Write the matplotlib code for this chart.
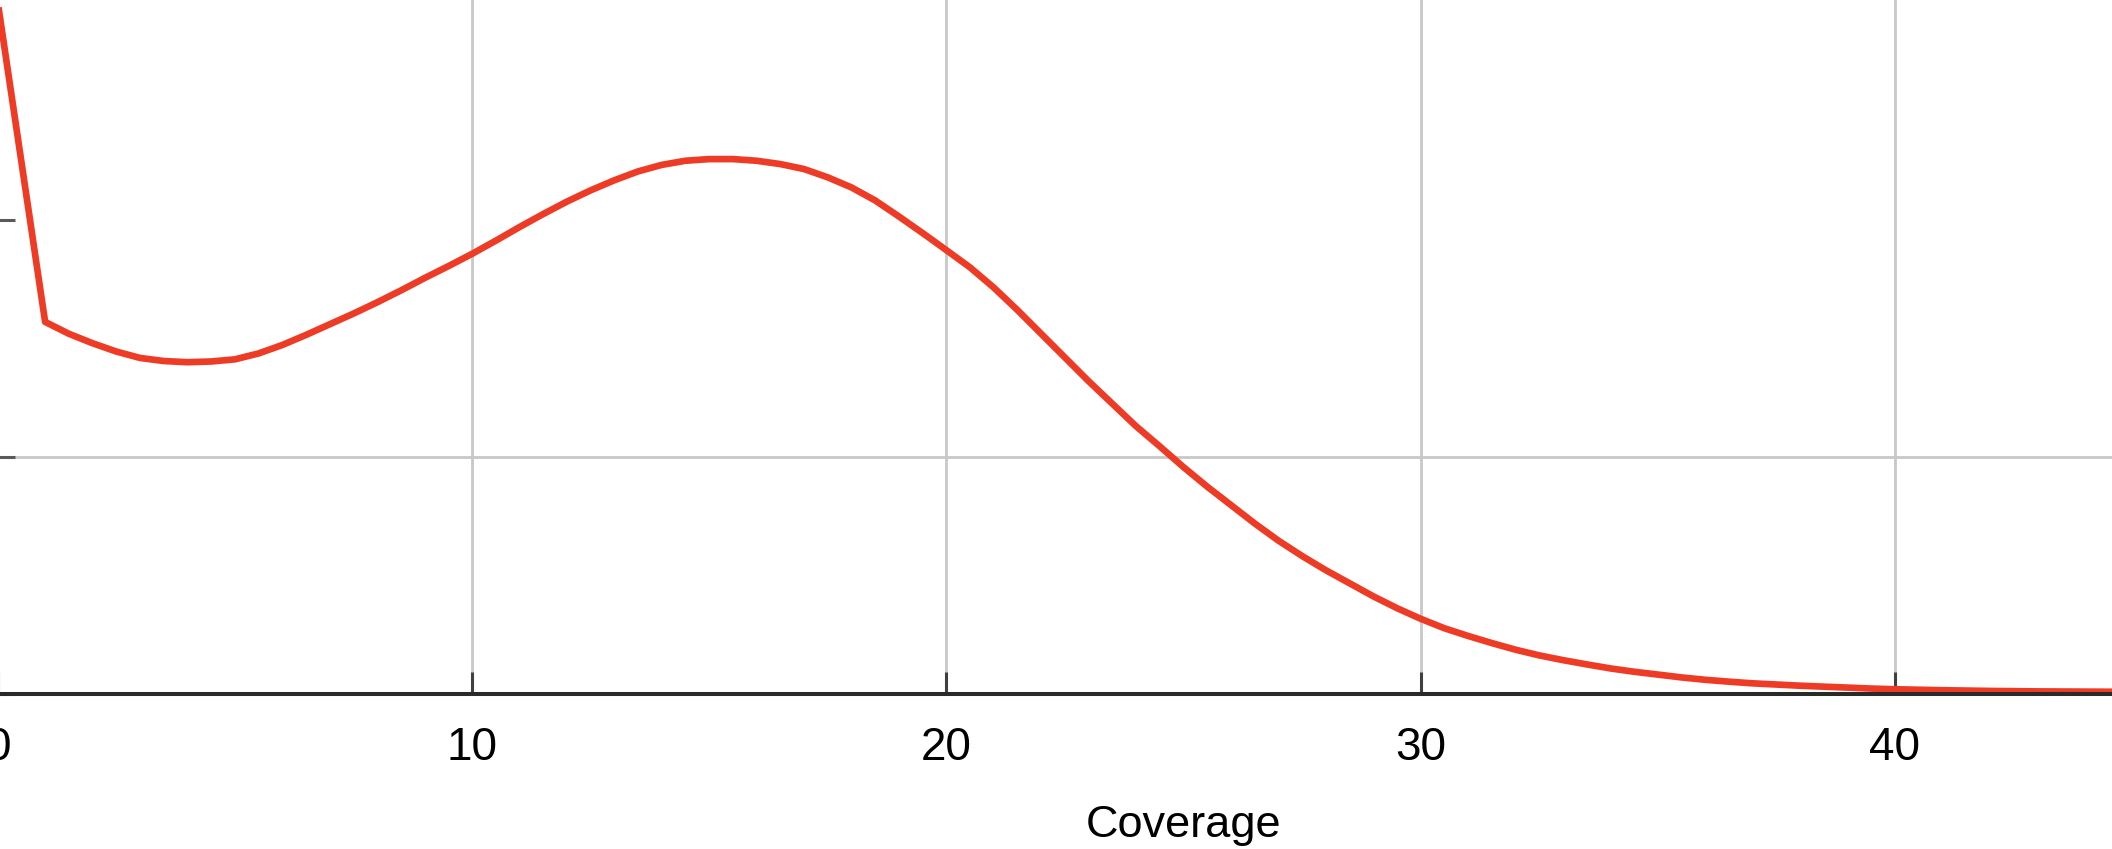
import matplotlib
matplotlib.use("Agg")
import matplotlib.pyplot as plt

# coverage histogram (percent of positions)
coverage = [
    0, 1, 1.5, 2, 2.5, 3, 3.5, 4, 4.5, 5, 5.5, 6, 6.5, 7, 7.5, 8, 8.5, 9, 9.5,
    10, 10.5, 11, 11.5, 12, 12.5, 13, 13.5, 14, 14.5, 15, 15.5, 16, 16.5, 17, 17.5,
    18, 18.5, 19, 19.5, 20, 20.5, 21, 21.5, 22, 22.5, 23, 23.5, 24, 24.5, 25, 25.5,
    26, 26.5, 27, 27.5, 28, 28.5, 29, 29.5, 30, 30.5, 31, 31.5, 32, 32.5, 33, 33.5,
    34, 34.5, 35, 35.5, 36, 36.5, 37, 37.5, 38, 38.5, 39, 39.5, 40, 41, 42, 43, 44,
    45, 46, 48, 50,
]
percent = [
    5.84, 3.14, 3.04, 2.96, 2.89, 2.836, 2.81, 2.80, 2.806, 2.824, 2.874, 2.945, 3.03,
    3.12, 3.21, 3.305, 3.405, 3.51, 3.61,
    3.714, 3.825, 3.94, 4.05, 4.155, 4.25, 4.335, 4.41, 4.465, 4.50, 4.514, 4.514,
    4.50, 4.472, 4.43, 4.36,
    4.275, 4.165, 4.03, 3.89, 3.746, 3.60, 3.43, 3.24, 3.04, 2.84, 2.64, 2.45,
    2.26, 2.09, 1.915, 1.75,
    1.595, 1.44, 1.295, 1.165, 1.045, 0.935, 0.825, 0.725, 0.635, 0.555, 0.49, 0.43,
    0.374, 0.326, 0.286, 0.25,
    0.216, 0.188, 0.164, 0.14, 0.12, 0.104, 0.09, 0.08, 0.07, 0.062, 0.054, 0.046,
    0.040, 0.032, 0.026, 0.022, 0.020,
    0.018, 0.016, 0.014, 0.012,
]
x_ticks = [0, 10, 20, 30, 40, 50]
y_ticks = [0, 2, 4, 6]

W, H = 2112, 849
fig = plt.figure(figsize=(W / 100, H / 100), dpi=100)

# axes runs past the figure edges (the reference is a crop of a larger chart)
px_per_x = 47.43
px_per_y = 237 / 2
x0_px = -2.3
base_px = 694
ax = fig.add_axes([x0_px / W, (H - base_px) / H,
                   50 * px_per_x / W, 8 * px_per_y / H])

ax.plot(coverage, percent, color="#ee3b26", linewidth=4.8, zorder=2.5,
        solid_joinstyle="round")

ax.set_xlim(0, 50)
ax.set_ylim(0, 8)
ax.set_xticks(x_ticks)
ax.set_yticks(y_ticks)

for s in ["left", "top", "right"]:
    ax.spines[s].set_visible(False)
ax.spines["bottom"].set_color("#2a2a2a")
ax.spines["bottom"].set_linewidth(2.9)
ax.spines["bottom"].set_zorder(3)

ax.grid(True, color="#c8c8c8", linewidth=2.0, zorder=0)
ax.set_axisbelow(True)

ax.tick_params(axis="x", direction="in", length=16, width=2.2, color="#404040",
               labelsize=33, pad=23)
ax.tick_params(axis="y", direction="in", length=12, width=2.2, color="#5a5a5a",
               labelsize=33)
for lab in ax.get_xticklabels() + ax.get_yticklabels():
    lab.set_fontfamily(["Liberation Sans", "DejaVu Sans"])

yt = ax.yaxis.get_major_ticks()
yt[2].gridline.set_visible(False)
yt[2].tick1line.set_color("#a0a0a0")

ax.set_xlabel("Coverage", fontsize=32.5, labelpad=25,
              fontfamily=["Liberation Sans", "DejaVu Sans"])

fig.savefig("out.png", dpi=100)
